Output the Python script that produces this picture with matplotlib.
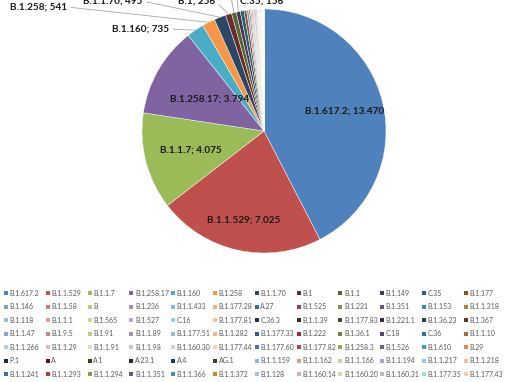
import numpy as np
import matplotlib
matplotlib.use("Agg")
import matplotlib.pyplot as plt
from matplotlib.patches import Rectangle
from matplotlib.colors import to_rgb

# ---------------- data ----------------
lineages = [
    "B.1.617.2", "B.1.1.529", "B.1.1.7", "B.1.258.17", "B.1.160", "B.1.258",
    "B.1.1.70", "B.1", "B.1.1", "B.1.149", "C.35", "B.1.177",
    "B.1.146", "B.1.1.58", "B", "B.1.236", "B.1.1.433", "B.1.177.28",
    "A.27", "B.1.525", "B.1.221", "B.1.351", "B.1.153", "B.1.1.318",
    "B.1.118", "B.1.1.1", "B.1.565", "B.1.527", "C.16", "B.1.177.81",
    "C.36.3", "B.1.1.39", "B.1.177.83", "B.1.221.1", "B.1.36.23", "B.1.367",
    "B.1.1.47", "B.1.9.5", "B.1.91", "B.1.1.89", "B.1.177.51", "B.1.1.282",
    "B.1.177.33", "B.1.222", "B.1.36.1", "C.18", "C.36", "B.1.1.10",
    "B.1.1.266", "B.1.1.29", "B.1.1.91", "B.1.1.98", "B.1.160.30", "B.1.177.44",
    "B.1.177.60", "B.1.177.82", "B.1.258.3", "B.1.526", "B.1.610", "B.29",
    "P.1", "A", "A.1", "A.23.1", "A.4", "AG.1",
    "B.1.1.159", "B.1.1.162", "B.1.1.166", "B.1.1.194", "B.1.1.217", "B.1.1.218",
    "B.1.1.241", "B.1.1.293", "B.1.1.294", "B.1.1.351", "B.1.1.366", "B.1.1.372",
    "B.1.128", "B.1.160.14", "B.1.160.20", "B.1.160.31", "B.1.177.35", "B.1.177.43",
]
counts = [
    13470, 7025, 4075, 3794, 735, 541,
    495, 256, 200, 170, 156, 110,
    85, 70, 55, 45, 40, 35,
    30, 27, 24, 22, 20, 18,
    16, 15, 14, 13, 12, 11,
    10, 9, 9, 8, 8, 7,
    7, 6, 6, 6, 5, 5,
    5, 4, 4, 4, 4, 4,
    3, 3, 3, 3, 3, 3,
    3, 3, 2, 2, 2, 2,
    2, 2, 2, 2, 2, 2,
    1, 1, 1, 1, 1, 1,
    1, 1, 1, 1, 1, 1,
    1, 1, 1, 1, 1, 1,
]
inside_labels = ["B.1.617.2", "B.1.1.529", "B.1.1.7", "B.1.258.17"]
outside_labels = ["B.1.160", "B.1.258", "B.1.1.70", "B.1", "B.1.1", "B.1.149", "C.35"]

# ---------------- colours (Excel 2010 style cycle) ----------------
accents = ["#4F81BD", "#C0504D", "#9BBB59", "#8064A2", "#4BACC6", "#F79646"]
cycle_factors = [0, -0.45, 0.25, -0.2, 0.45, -0.6, 0.3, -0.3, 0.6, -0.1, -0.65, 0.4, -0.15, 0.5]


def variant(hexcol, f):
    c = np.array(to_rgb(hexcol))
    if f < 0:
        return tuple(c * (1 + f))
    return tuple(c + (1 - c) * f)


colors = [variant(accents[i % 6], cycle_factors[i // 6]) for i in range(len(lineages))]


def fmt(v):
    return f"{v:,}".replace(",", ".")


# ---------------- figure ----------------
W, H = 510, 382
fig = plt.figure(figsize=(W / 100, H / 100), dpi=100)
fig.patch.set_facecolor("white")

cx, cy, R = 264, 131, 122  # pixel centre (top origin) and radius
ax = fig.add_axes([(cx - R) / W, (H - cy - R) / H, 2 * R / W, 2 * R / H])
wedges, _ = ax.pie(counts, colors=colors, startangle=90, counterclock=False,
                   wedgeprops=dict(edgecolor="white", linewidth=0.3))
ax.set_xlim(-1, 1)
ax.set_ylim(-1, 1)
ax.set_aspect("equal")
ax.axis("off")

label_font = dict(family=["Lato", "DejaVu Sans"], fontsize=7.2, fontweight="bold", color="#1a1a1a")

inside_r = {"B.1.617.2": 0.68, "B.1.1.529": 0.75, "B.1.1.7": 0.62, "B.1.258.17": 0.52}
for name in inside_labels:
    i = lineages.index(name)
    w = wedges[i]
    mid = np.deg2rad((w.theta1 + w.theta2) / 2)
    r = inside_r[name]
    ax.text(r * np.cos(mid), r * np.sin(mid), f"{name}; {fmt(counts[i])}",
            ha="center", va="center", **label_font)

# outside label text positions (figure pixels, bottom origin), alignment, line anchor
outside_pos = {
    "B.1.160": (112, H - 29, "left", (1, 0.5)),
    "B.1.258": (10, H - 7, "left", (1, 0.5)),
    "B.1.1.70": (83, H - 1, "left", (1, 0.5)),
    "B.1": (178, H - 1, "left", (1, 0.5)),
    "B.1.1": (230, H + 9, "right", (1, 0.5)),
    "B.1.149": (236, H + 20, "left", (0, 0.5)),
    "C.35": (240, H - 1, "left", (0, 0.5)),
}
for name in outside_labels:
    i = lineages.index(name)
    w = wedges[i]
    mid = np.deg2rad((w.theta1 + w.theta2) / 2)
    px, py, ha, rel = outside_pos[name]
    ax.annotate(f"{name}; {fmt(counts[i])}", xy=(np.cos(mid), np.sin(mid)),
                xycoords="data", xytext=(px, py), textcoords="figure pixels",
                ha=ha, va="center", annotation_clip=False,
                arrowprops=dict(arrowstyle="-", color="#A6A6A6", lw=0.6,
                                relpos=rel, shrinkA=1, shrinkB=0),
                **label_font)

# ---------------- legend (Excel-like, row-major, 12 columns) ----------------
ncol = 12
x0, dx = 4, 41.8
y0, dy = 293, 13.55
for i, name in enumerate(lineages):
    r, c = divmod(i, ncol)
    x = x0 + c * dx
    y = y0 + r * dy
    fig.add_artist(Rectangle((x / W, (H - y - 2) / H), 4 / W, 4 / H,
                             transform=fig.transFigure, facecolor=colors[i],
                             edgecolor="none"))
    fig.text((x + 5.5) / W, (H - y) / H, name, fontsize=5.0,
             family=["Lato", "DejaVu Sans"], va="center", ha="left", color="#595959")

fig.savefig("out.png", dpi=100, facecolor="white")
